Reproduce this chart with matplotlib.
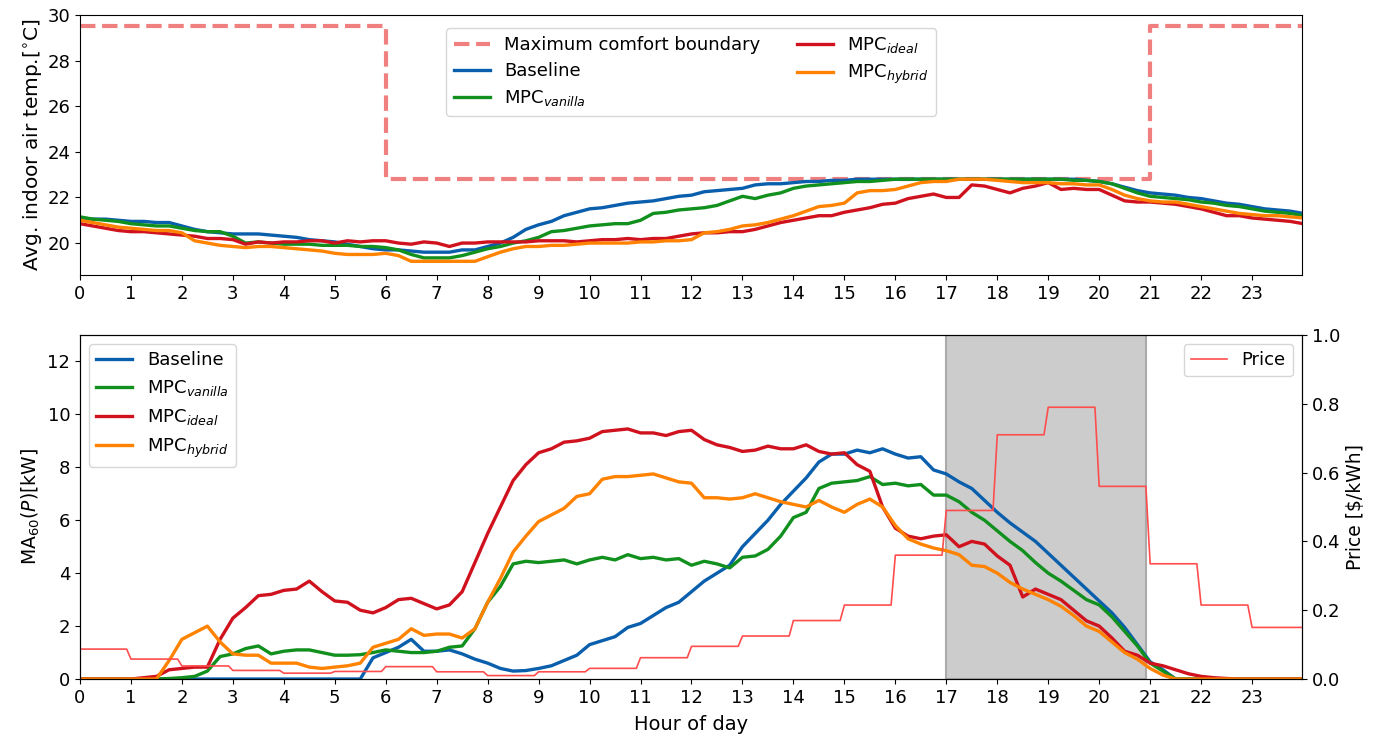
import numpy as np
import matplotlib
matplotlib.use("Agg")
import matplotlib.pyplot as plt

# ---------------- data ----------------
hours_tick = list(range(24))
step = 0.25  # sampling interval of the series (h)

comfort_max = [29.5]*6 + [22.8]*15 + [29.5]*3 + [29.5]

temp_baseline = [
    21.1, 21.05, 21.05, 21.0,
    20.95, 20.95, 20.9, 20.9,
    20.75, 20.6, 20.5, 20.45,
    20.4, 20.4, 20.4, 20.35,
    20.3, 20.25, 20.15, 20.1,
    20.05, 19.95, 19.85, 19.75,
    19.7, 19.7, 19.65, 19.6,
    19.6, 19.6, 19.7, 19.7,
    19.85, 20.0, 20.25, 20.6,
    20.8, 20.95, 21.2, 21.35,
    21.5, 21.55, 21.65, 21.75,
    21.8, 21.85, 21.95, 22.05,
    22.1, 22.25, 22.3, 22.35,
    22.4, 22.55, 22.6, 22.6,
    22.65, 22.7, 22.7, 22.75,
    22.75, 22.8, 22.8, 22.8,
    22.8, 22.8, 22.8, 22.8,
    22.8, 22.8, 22.8, 22.8,
    22.8, 22.8, 22.8, 22.8,
    22.8, 22.8, 22.8, 22.75,
    22.7, 22.6, 22.45, 22.3,
    22.2, 22.15, 22.1, 22.0,
    21.95, 21.85, 21.75, 21.7,
    21.6, 21.5, 21.45, 21.4,
    21.3]

temp_vanilla = [
    21.15, 21.05, 21.0, 20.95,
    20.85, 20.8, 20.75, 20.75,
    20.65, 20.55, 20.5, 20.5,
    20.3, 20.0, 20.05, 20.0,
    19.95, 19.95, 19.95, 19.9,
    19.9, 19.9, 19.85, 19.85,
    19.8, 19.7, 19.5, 19.35,
    19.35, 19.35, 19.45, 19.6,
    19.75, 19.85, 20.0, 20.1,
    20.25, 20.5, 20.55, 20.65,
    20.75, 20.8, 20.85, 20.85,
    21.0, 21.3, 21.35, 21.45,
    21.5, 21.55, 21.65, 21.85,
    22.05, 21.95, 22.1, 22.2,
    22.4, 22.5, 22.55, 22.6,
    22.65, 22.7, 22.7, 22.75,
    22.8, 22.8, 22.8, 22.8,
    22.8, 22.8, 22.8, 22.8,
    22.8, 22.8, 22.8, 22.8,
    22.8, 22.8, 22.75, 22.75,
    22.7, 22.6, 22.4, 22.2,
    22.05, 22.0, 21.95, 21.9,
    21.8, 21.75, 21.65, 21.6,
    21.5, 21.4, 21.35, 21.3,
    21.2]

temp_ideal = [
    20.85, 20.75, 20.65, 20.55,
    20.5, 20.5, 20.45, 20.4,
    20.35, 20.3, 20.2, 20.2,
    20.15, 19.95, 20.05, 20.0,
    20.05, 20.05, 20.1, 20.1,
    20.0, 20.1, 20.05, 20.1,
    20.1, 20.0, 19.95, 20.05,
    20.0, 19.85, 20.0, 20.0,
    20.05, 20.05, 20.05, 20.05,
    20.1, 20.1, 20.1, 20.05,
    20.1, 20.15, 20.15, 20.2,
    20.15, 20.2, 20.2, 20.3,
    20.4, 20.45, 20.45, 20.5,
    20.5, 20.6, 20.75, 20.9,
    21.0, 21.1, 21.2, 21.2,
    21.35, 21.45, 21.55, 21.7,
    21.75, 21.95, 22.05, 22.15,
    22.0, 22.0, 22.55, 22.5,
    22.35, 22.2, 22.4, 22.5,
    22.65, 22.35, 22.4, 22.35,
    22.35, 22.1, 21.85, 21.8,
    21.8, 21.75, 21.7, 21.6,
    21.5, 21.35, 21.2, 21.2,
    21.1, 21.05, 21.0, 20.95,
    20.85]

temp_hybrid = [
    21.0, 20.9, 20.8, 20.7,
    20.65, 20.6, 20.55, 20.55,
    20.45, 20.1, 20.0, 19.9,
    19.85, 19.8, 19.85, 19.85,
    19.8, 19.75, 19.7, 19.65,
    19.55, 19.5, 19.5, 19.5,
    19.55, 19.45, 19.2, 19.2,
    19.2, 19.2, 19.2, 19.2,
    19.4, 19.6, 19.75, 19.85,
    19.85, 19.9, 19.9, 19.95,
    20.0, 20.0, 20.0, 20.0,
    20.05, 20.05, 20.1, 20.1,
    20.15, 20.45, 20.5, 20.6,
    20.75, 20.8, 20.9, 21.05,
    21.2, 21.4, 21.6, 21.65,
    21.75, 22.2, 22.3, 22.3,
    22.35, 22.5, 22.65, 22.7,
    22.7, 22.8, 22.8, 22.8,
    22.75, 22.7, 22.65, 22.65,
    22.65, 22.6, 22.6, 22.55,
    22.55, 22.35, 22.1, 21.95,
    21.85, 21.8, 21.8, 21.7,
    21.6, 21.5, 21.4, 21.3,
    21.25, 21.2, 21.2, 21.15,
    21.1]

power_baseline = [
    0, 0, 0, 0,
    0, 0, 0, 0,
    0, 0, 0, 0,
    0, 0, 0, 0,
    0, 0, 0, 0,
    0, 0, 0, 0.8,
    1.0, 1.2, 1.5, 1.05,
    1.05, 1.1, 0.95, 0.75,
    0.6, 0.4, 0.3, 0.32,
    0.4, 0.5, 0.7, 0.9,
    1.3, 1.45, 1.6, 1.95,
    2.1, 2.4, 2.7, 2.9,
    3.3, 3.7, 4.0, 4.3,
    5.0, 5.5, 6.0, 6.6,
    7.1, 7.6, 8.2, 8.5,
    8.5, 8.65, 8.55, 8.7,
    8.5, 8.35, 8.4, 7.9,
    7.75, 7.45, 7.2, 6.75,
    6.3, 5.9, 5.55, 5.2,
    4.75, 4.3, 3.85, 3.4,
    2.95, 2.5, 1.95, 1.3,
    0.65, 0.35, 0.0, 0,
    0, 0, 0, 0,
    0, 0, 0, 0,
    0]

power_vanilla = [
    0, 0, 0, 0,
    0, 0, 0, 0.02,
    0.05, 0.1, 0.3, 0.85,
    0.95, 1.15, 1.25, 0.95,
    1.05, 1.1, 1.1, 1.0,
    0.9, 0.9, 0.92, 1.0,
    1.1, 1.05, 1.0, 1.0,
    1.05, 1.2, 1.25, 1.9,
    2.9, 3.5, 4.35, 4.45,
    4.4, 4.45, 4.5, 4.35,
    4.5, 4.6, 4.5, 4.7,
    4.55, 4.6, 4.5, 4.55,
    4.3, 4.45, 4.35, 4.2,
    4.6, 4.65, 4.9, 5.4,
    6.1, 6.3, 7.2, 7.4,
    7.45, 7.5, 7.65, 7.35,
    7.4, 7.3, 7.35, 6.95,
    6.95, 6.7, 6.3, 6.0,
    5.6, 5.2, 4.85, 4.4,
    4.0, 3.7, 3.35, 3.0,
    2.8, 2.35, 1.8, 1.25,
    0.6, 0.3, 0.0, 0,
    0, 0, 0, 0,
    0, 0, 0, 0,
    0]

power_ideal = [
    0, 0, 0, 0,
    0, 0.05, 0.1, 0.35,
    0.4, 0.45, 0.45, 1.5,
    2.3, 2.7, 3.15, 3.2,
    3.35, 3.4, 3.7, 3.3,
    2.95, 2.9, 2.6, 2.5,
    2.7, 3.0, 3.05, 2.85,
    2.65, 2.8, 3.3, 4.4,
    5.5, 6.5, 7.5, 8.1,
    8.55, 8.7, 8.95, 9.0,
    9.1, 9.35, 9.4, 9.45,
    9.3, 9.3, 9.2, 9.35,
    9.4, 9.05, 8.85, 8.75,
    8.6, 8.65, 8.8, 8.7,
    8.7, 8.85, 8.6, 8.5,
    8.55, 8.1, 7.85, 6.5,
    5.7, 5.4, 5.3, 5.4,
    5.45, 5.0, 5.2, 5.1,
    4.65, 4.3, 3.1, 3.4,
    3.2, 3.0, 2.6, 2.2,
    2.0, 1.55, 1.05, 0.9,
    0.6, 0.5, 0.35, 0.2,
    0.1, 0.05, 0.02, 0,
    0, 0, 0, 0,
    0]

power_hybrid = [
    0, 0, 0, 0,
    0, 0, 0, 0.7,
    1.5, 1.75, 2.0, 1.4,
    0.95, 0.9, 0.9, 0.6,
    0.6, 0.6, 0.45, 0.4,
    0.45, 0.5, 0.6, 1.2,
    1.35, 1.5, 1.9, 1.65,
    1.7, 1.7, 1.55, 1.9,
    2.9, 3.8, 4.8, 5.4,
    5.95, 6.2, 6.45, 6.9,
    7.0, 7.55, 7.65, 7.65,
    7.7, 7.75, 7.6, 7.45,
    7.4, 6.85, 6.85, 6.8,
    6.85, 7.0, 6.85, 6.7,
    6.6, 6.5, 6.75, 6.5,
    6.3, 6.6, 6.8, 6.5,
    5.8, 5.3, 5.1, 4.95,
    4.85, 4.7, 4.3, 4.25,
    4.0, 3.65, 3.4, 3.2,
    3.0, 2.75, 2.4, 2.0,
    1.8, 1.4, 1.0, 0.75,
    0.4, 0.15, 0.0, 0,
    0, 0, 0, 0,
    0, 0, 0, 0,
    0]

price = [0.087, 0.058, 0.038, 0.025, 0.017, 0.022, 0.036, 0.021,
         0.010, 0.021, 0.031, 0.062, 0.095, 0.125, 0.170, 0.215,
         0.360, 0.490, 0.710, 0.790, 0.560, 0.335, 0.215, 0.150]

peak_start, peak_end = 17, 20.92

# ---------------- style ----------------
plt.rcParams['font.family'] = ['DejaVu Sans']
plt.rcParams['font.size'] = 13
plt.rcParams['mathtext.fontset'] = 'dejavusans'

c_base = '#0a5fad'
c_van = '#12901e'
c_ideal = '#d0121e'
c_hyb = '#ff8200'
c_comf = '#f08080'
c_price = '#ff4d4d'
lw = 2.4

fig = plt.figure(figsize=(13.86, 7.40), dpi=100)
ax1 = fig.add_axes([0.0577, 0.6284, 0.8817, 0.3513])
ax2 = fig.add_axes([0.0577, 0.0824, 0.8817, 0.4649])

t = np.arange(len(temp_baseline)) * step
xmax = 23.98

# ---- top panel ----
ax1.plot(np.arange(len(comfort_max)), comfort_max, drawstyle='steps-post',
         ls='--', color=c_comf, lw=3, label='Maximum comfort boundary')
ax1.plot(t, temp_baseline, color=c_base, lw=lw, label='Baseline')
ax1.plot(t, temp_vanilla, color=c_van, lw=lw, label='MPC$_{vanilla}$')
ax1.plot(t, temp_ideal, color=c_ideal, lw=lw, label='MPC$_{ideal}$')
ax1.plot(t, temp_hybrid, color=c_hyb, lw=lw, label='MPC$_{hybrid}$')
ax1.set_xlim(0, xmax)
ax1.set_ylim(18.6, 30)
ax1.set_yticks([20, 22, 24, 26, 28, 30])
ax1.set_xticks(hours_tick)
ax1.set_ylabel('Avg. indoor air temp.[$^{\\circ}$C]', fontsize=14.5, labelpad=2)
ax1.legend(loc='upper center', ncol=2, fontsize=13, bbox_to_anchor=(0.5, 0.985),
           labelspacing=0.45)

# ---- bottom panel ----
ax2.axvspan(peak_start, peak_end, facecolor='#cccccc', edgecolor='#aaaaaa', lw=1.5)
ax2.plot(t, power_baseline, color=c_base, lw=lw, label='Baseline')
ax2.plot(t, power_vanilla, color=c_van, lw=lw, label='MPC$_{vanilla}$')
ax2.plot(t, power_ideal, color=c_ideal, lw=lw, label='MPC$_{ideal}$')
ax2.plot(t, power_hybrid, color=c_hyb, lw=lw, label='MPC$_{hybrid}$')
ax2.set_xlim(0, xmax)
ax2.set_ylim(0, 13)
ax2.set_yticks([0, 2, 4, 6, 8, 10, 12])
ax2.set_xticks(hours_tick)
ax2.set_xlabel('Hour of day', fontsize=14, labelpad=6)
ax2.set_ylabel('MA$_{60}$($P$)[kW]', fontsize=13.5)
ax2.legend(loc='upper left', fontsize=13)

ax3 = ax2.twinx()
tp = np.arange(len(price) * 12 + 1) / 12
pp = np.append(np.repeat(price, 12), price[-1])
ax3.plot(tp, pp, color=c_price, lw=1.2, label='Price')
ax3.set_ylim(0, 1.0)
ax3.set_yticks([0.0, 0.2, 0.4, 0.6, 0.8, 1.0])
ax3.set_ylabel('Price [\\$/kWh]', fontsize=13.5)
ax3.set_xlim(0, xmax)
ax3.legend(loc='upper right', fontsize=13)

fig.savefig('out.png', dpi=100)
